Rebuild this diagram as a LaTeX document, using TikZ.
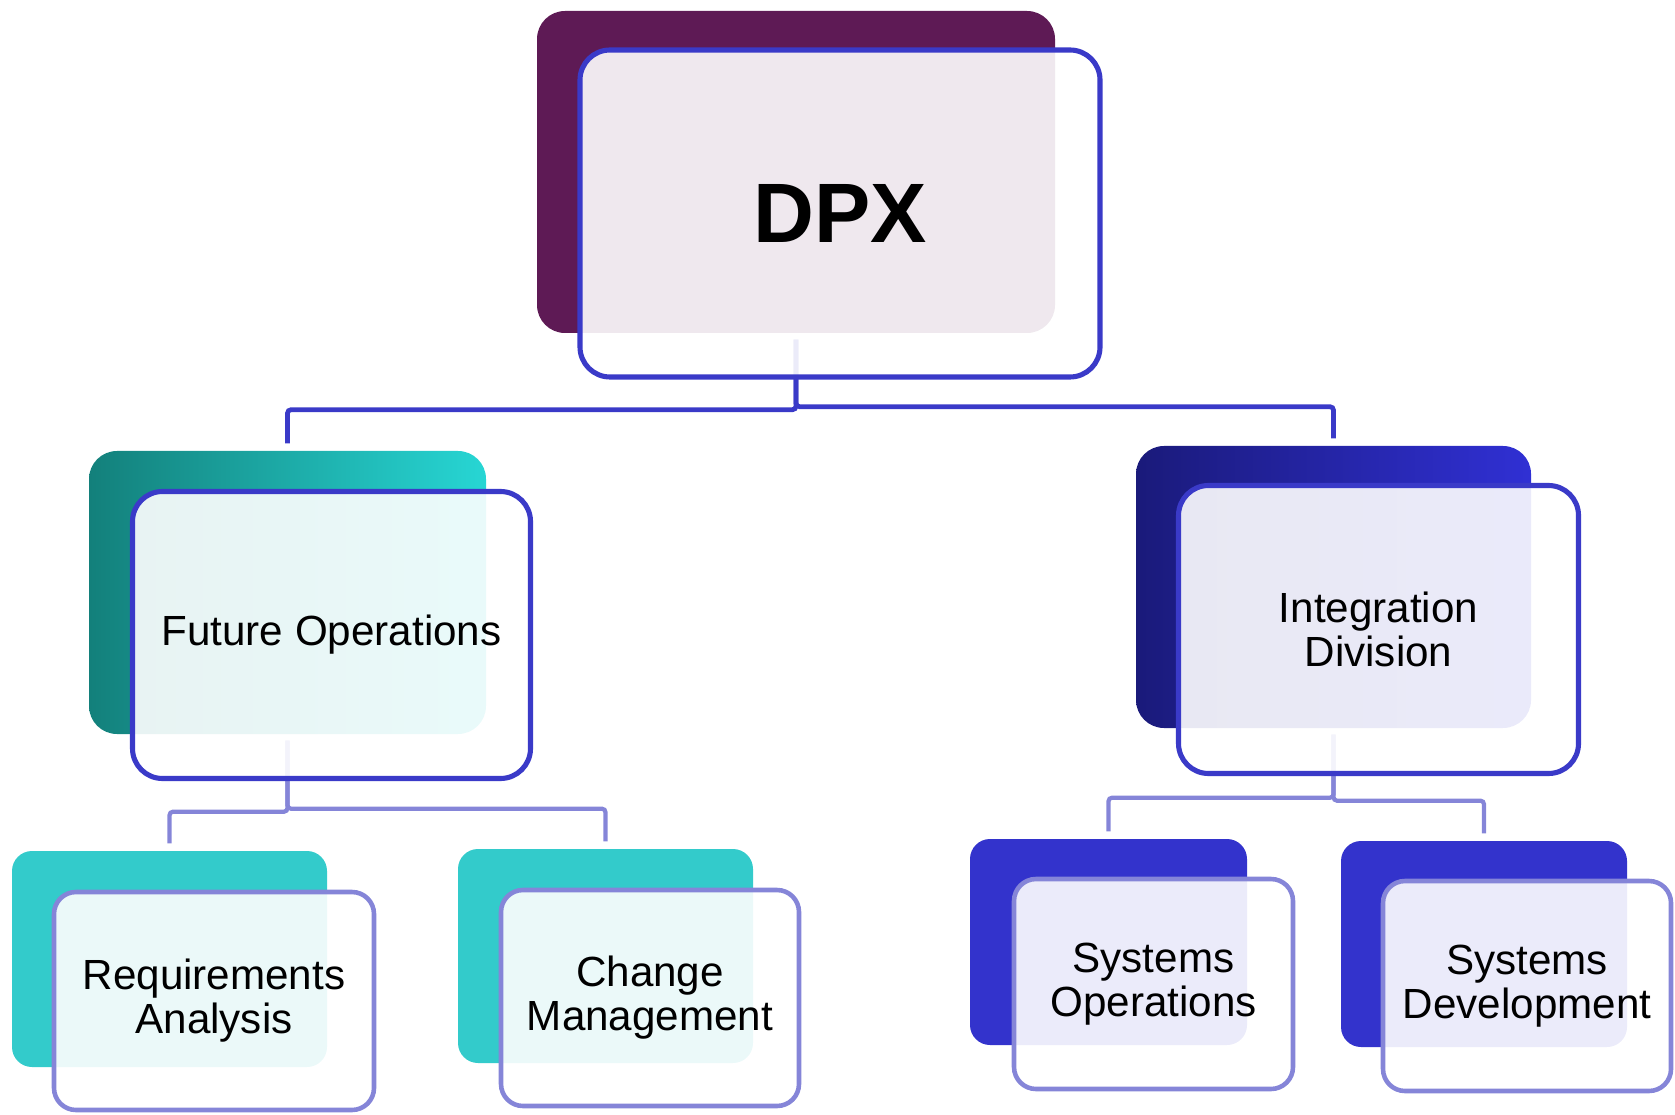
\documentclass[tikz,border=0pt]{standalone}
\usepackage{fontspec}
\setmainfont{Liberation Sans}

\definecolor{dpxpurple}{HTML}{5E1A55}
\definecolor{linkblue}{HTML}{3A3AC8}
\definecolor{linklight}{HTML}{8585D8}
\definecolor{tealdark}{HTML}{13807B}
\definecolor{teallight}{HTML}{27D6D4}
\definecolor{navydark}{HTML}{1A1A7A}
\definecolor{navylight}{HTML}{3030D4}
\definecolor{childteal}{HTML}{33CBCB}
\definecolor{childblue}{HTML}{3333CC}

\tikzset{
  backbox/.style={rectangle, rounded corners=0.28cm, inner sep=0pt},
  frontbox/.style={rectangle, rounded corners=0.3cm, draw=linkblue, line width=1.45pt,
    fill=white, fill opacity=0.9, text opacity=1, inner sep=0pt, align=center,
    font=\fontsize{12}{12.5}\selectfont},
  childback/.style={backbox, rounded corners=0.2cm},
  childfront/.style={frontbox, rounded corners=0.22cm, draw=linklight, line width=1.3pt},
  link/.style={linkblue, line width=1.35pt, rounded corners=1pt, shorten <=0.06cm, shorten >=0.07cm},
  sublink/.style={link, linklight, line width=1.2pt}
}

\begin{document}
\begin{tikzpicture}
  \useasboundingbox (0,0) rectangle (16.75,-11.15);

  % back plates
  \node[backbox, fill=dpxpurple, minimum width=5.18cm, minimum height=3.22cm] (dpxback) at (7.96,-1.72) {};
  \node[backbox, left color=tealdark, right color=teallight, minimum width=3.97cm, minimum height=2.83cm] (fopsback) at (2.875,-5.925) {};
  \node[backbox, left color=navydark, right color=navylight, minimum width=3.95cm, minimum height=2.82cm] (intback) at (13.335,-5.87) {};

  \node[childback, fill=childteal, minimum width=3.15cm, minimum height=2.16cm] (reqback) at (1.695,-9.59) {};
  \node[childback, fill=childteal, minimum width=2.95cm, minimum height=2.14cm] (chgback) at (6.055,-9.56) {};
  \node[childback, fill=childblue, minimum width=2.77cm, minimum height=2.06cm] (sysopsback) at (11.085,-9.42) {};
  \node[childback, fill=childblue, minimum width=2.86cm, minimum height=2.06cm] (sysdevback) at (14.84,-9.44) {};

  % connectors
  \draw[link] (dpxback.south) -- ++(0,-0.76) -| (fopsback.north);
  \draw[link] (dpxback.south) -- ++(0,-0.73) -| (intback.north);

  \draw[sublink] (fopsback.south) -- ++(0,-0.77) -| (reqback.north);
  \draw[sublink] (fopsback.south) -- ++(0,-0.74) -| (chgback.north);
  \draw[sublink] (intback.south) -- ++(0,-0.69) -| (sysopsback.north);
  \draw[sublink] (intback.south) -- ++(0,-0.72) -| (sysdevback.north);

  % front frames with the labels
  \node[frontbox, minimum width=5.2cm, minimum height=3.27cm, font=\fontsize{24}{28}\selectfont\bfseries] (dpx) at (8.40,-2.135) {DPX};
  \node[frontbox, minimum width=3.98cm, minimum height=2.87cm] (fops) at (3.315,-6.35) {Future Operations};
  \node[frontbox, minimum width=4.0cm, minimum height=2.88cm] (int) at (13.785,-6.295) {Integration\\Division};

  \node[childfront, minimum width=3.2cm, minimum height=2.18cm] (req) at (2.14,-10.01) {Requirements\\Analysis};
  \node[childfront, minimum width=2.98cm, minimum height=2.16cm] (chg) at (6.50,-9.98) {Change\\Management};
  \node[childfront, minimum width=2.79cm, minimum height=2.1cm] (sysops) at (11.535,-9.84) {Systems\\Operations};
  \node[childfront, minimum width=2.88cm, minimum height=2.1cm] (sysdev) at (15.27,-9.86) {Systems\\Development};
\end{tikzpicture}
\end{document}
